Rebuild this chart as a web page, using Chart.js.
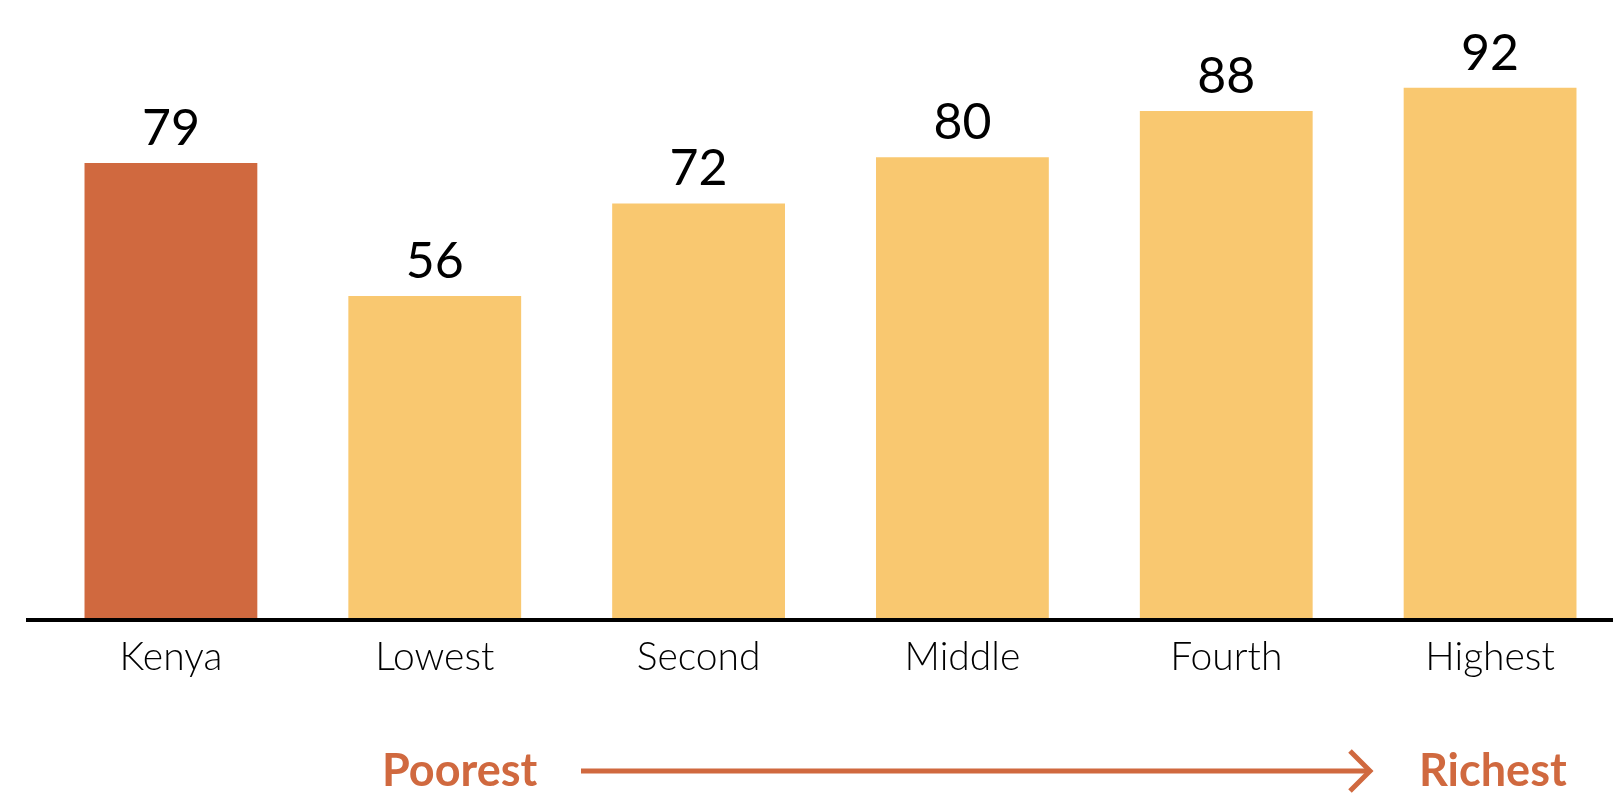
<!DOCTYPE html>
<html>
<head>
<meta charset="utf-8">
<script src="https://cdn.jsdelivr.net/npm/chart.js@4/dist/chart.umd.min.js"></script>
<style>
    body { margin: 0; background: #fff; overflow: hidden; }
    #wrap { width: 1613px; height: 796px; overflow: hidden; }
</style>
</head>
<body>
<div id="wrap"><canvas id="chart" width="1622" height="796"></canvas></div>
<script>
// Categories and values
const categories = ['Kenya', 'Lowest', 'Second', 'Middle', 'Fourth', 'Highest'];
const values = [79, 56, 72, 80, 88, 92];
const barColors = ['#D0693F', '#F9C870', '#F9C870', '#F9C870', '#F9C870', '#F9C870'];

const accent = '#D0693F';
const fontFamily = 'Lato, "Open Sans", sans-serif';

// value labels on top of bars
const valueLabels = {
    id: 'valueLabels',
    afterDatasetsDraw(chart) {
        const ctx = chart.ctx;
        const meta = chart.getDatasetMeta(0);
        ctx.save();
        ctx.fillStyle = '#000';
        ctx.font = '400 50px ' + fontFamily;
        ctx.textAlign = 'center';
        ctx.textBaseline = 'alphabetic';
        meta.data.forEach((bar, i) => {
            ctx.fillText(values[i], bar.x, bar.y - 18);
        });
        ctx.restore();
    }
};

// baseline + wealth arrow underneath
const baseline = {
    id: 'baseline',
    afterDraw(chart) {
        const ctx = chart.ctx;
        const y0 = chart.scales.y.getPixelForValue(0);
        ctx.save();
        ctx.strokeStyle = '#000';
        ctx.lineWidth = 4;
        ctx.beginPath();
        ctx.moveTo(26, y0);
        ctx.lineTo(chart.width, y0);
        ctx.stroke();

        // Poorest -> Richest
        const ay = 771;
        ctx.fillStyle = accent;
        ctx.font = 'bold 45px ' + fontFamily;
        ctx.textBaseline = 'middle';
        ctx.textAlign = 'left';
        ctx.fillText('Poorest', 382, ay);
        ctx.fillText('Richest', 1419, ay);

        ctx.strokeStyle = accent;
        ctx.lineWidth = 5;
        ctx.beginPath();
        ctx.moveTo(581, ay);
        ctx.lineTo(1369, ay);
        ctx.stroke();
        ctx.beginPath();
        ctx.moveTo(1350, ay - 20);
        ctx.lineTo(1370, ay);
        ctx.lineTo(1350, ay + 20);
        ctx.stroke();
        ctx.restore();
    }
};

new Chart(document.getElementById('chart'), {
    type: 'bar',
    data: {
        labels: categories,
        datasets: [{
            data: values,
            backgroundColor: barColors,
            borderWidth: 0,
            barPercentage: 0.655,
            categoryPercentage: 1
        }]
    },
    options: {
        responsive: false,
        animation: false,
        layout: { padding: { left: 39, right: 0, top: 1, bottom: 0 } },
        plugins: {
            legend: { display: false },
            tooltip: { enabled: false }
        },
        scales: {
            x: {
                grid: { display: false },
                border: { display: false },
                ticks: {
                    color: '#000',
                    padding: 6,
                    font: { family: fontFamily, size: 39, weight: '300' }
                },
                afterFit(scale) { scale.height = 176; }
            },
            y: {
                display: false,
                min: 0,
                max: 107
            }
        }
    },
    plugins: [valueLabels, baseline]
});
</script>
</body>
</html>
